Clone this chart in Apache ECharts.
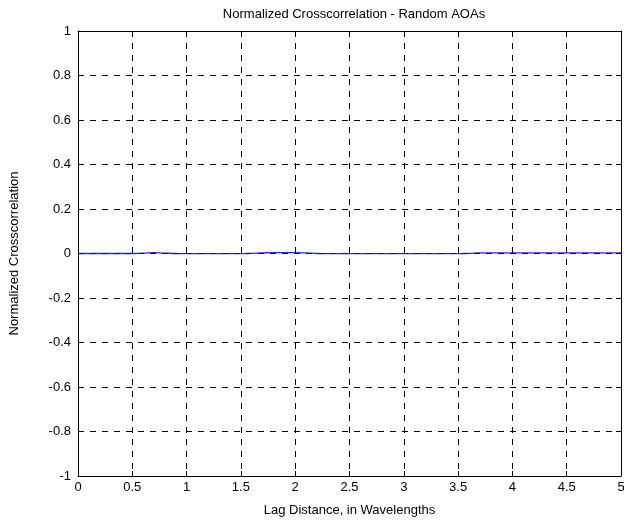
<!DOCTYPE html>
<html>
<head>
<meta charset="utf-8">
<script src="https://cdn.jsdelivr.net/npm/echarts@6/dist/echarts.min.js"></script>
<style>
  html, body { margin: 0; padding: 0; background: #fff; }
  #main { width: 643px; height: 524px; }
</style>
</head>
<body>
<div id="main"></div>
<script>
// lag distance, in wavelengths
const lags = [
  0, 0.1, 0.2, 0.3, 0.4, 0.5, 0.6, 0.7, 0.8, 0.9,
  1, 1.1, 1.2, 1.3, 1.4, 1.5, 1.6, 1.7, 1.8, 1.9,
  2, 2.1, 2.2, 2.3, 2.4, 2.5, 2.6, 2.7, 2.8, 2.9,
  3, 3.1, 3.2, 3.3, 3.4, 3.5, 3.6, 3.7, 3.8, 3.9,
  4, 4.1, 4.2, 4.3, 4.4, 4.5, 4.6, 4.7, 4.8, 4.9, 5,
];
// normalized crosscorrelation (tiny ripples)
const xcorr = [
  0, 0, 0, 0, 0, 0, 0.002, 0.004, 0.002, 0,
  -0.001, -0.001, -0.001, -0.001, -0.001, -0.001, 0.001, 0.003, 0.004, 0.004,
  0.004, 0.003, 0, -0.001, -0.001, -0.001, -0.001, -0.001, -0.001, -0.001,
  -0.001, -0.001, -0.001, -0.001, -0.001, -0.001, 0.001, 0.003, 0.003, 0.003,
  0.003, 0.003, 0.003, 0.003, 0.003, 0.003, 0.003, 0.003, 0.003, 0.003, 0.003,
];
const xTicks = { min: 0, max: 5, step: 0.5 };
const yTicks = { min: -1, max: 1, step: 0.2 };

const chart = echarts.init(document.getElementById('main'), null, { renderer: 'canvas' });

const font = 'Liberation Sans, Arial, sans-serif';
const fs = 13;
const gridLine = { show: true, lineStyle: { color: '#000', type: [6, 6], width: 1 } };
const frame = { show: true, onZero: false, lineStyle: { color: '#000', width: 1 } };
const tick = { show: true, inside: true, length: 5, lineStyle: { color: '#000' } };

chart.setOption({
  animation: false,
  backgroundColor: '#fff',
  title: {
    text: 'Normalized Crosscorrelation - Random AOAs',
    left: 349,
    top: 3,
    textAlign: 'center',
    textStyle: { fontFamily: font, fontSize: fs, fontWeight: 'normal', color: '#000' },
  },
  grid: { left: 77, right: 22, top: 31, bottom: 48, containLabel: false },
  xAxis: [
    {
      type: 'value',
      min: xTicks.min,
      max: xTicks.max,
      interval: xTicks.step,
      name: 'Lag Distance, in Wavelengths',
      nameLocation: 'middle',
      nameGap: 28,
      nameTextStyle: { fontFamily: font, fontSize: fs, color: '#000' },
      axisLine: frame,
      axisTick: tick,
      splitLine: gridLine,
      axisLabel: { fontFamily: font, fontSize: fs, color: '#000', margin: 5 },
    },
    {
      type: 'value',
      position: 'top',
      min: xTicks.min,
      max: xTicks.max,
      interval: xTicks.step,
      axisLine: frame,
      axisTick: tick,
      splitLine: { show: false },
      axisLabel: { show: false },
    },
  ],
  yAxis: [
    {
      type: 'value',
      min: yTicks.min,
      max: yTicks.max,
      interval: yTicks.step,
      name: 'Normalized Crosscorrelation',
      nameLocation: 'middle',
      nameGap: 57,
      nameTextStyle: { fontFamily: font, fontSize: fs, color: '#000' },
      axisLine: frame,
      axisTick: tick,
      splitLine: gridLine,
      axisLabel: {
        fontFamily: font, fontSize: fs, color: '#000', margin: 7,
        formatter: (v) => String(Math.round(v * 10) / 10),
      },
    },
    {
      type: 'value',
      position: 'right',
      min: yTicks.min,
      max: yTicks.max,
      interval: yTicks.step,
      axisLine: frame,
      axisTick: tick,
      splitLine: { show: false },
      axisLabel: { show: false },
    },
  ],
  series: [
    {
      type: 'line',
      data: lags.map((x, i) => [x, xcorr[i]]),
      showSymbol: false,
      smooth: true,
      lineStyle: { color: '#0000ff', width: 1.3, opacity: 0.85 },
      z: 10,
    },
  ],
});
</script>
</body>
</html>
